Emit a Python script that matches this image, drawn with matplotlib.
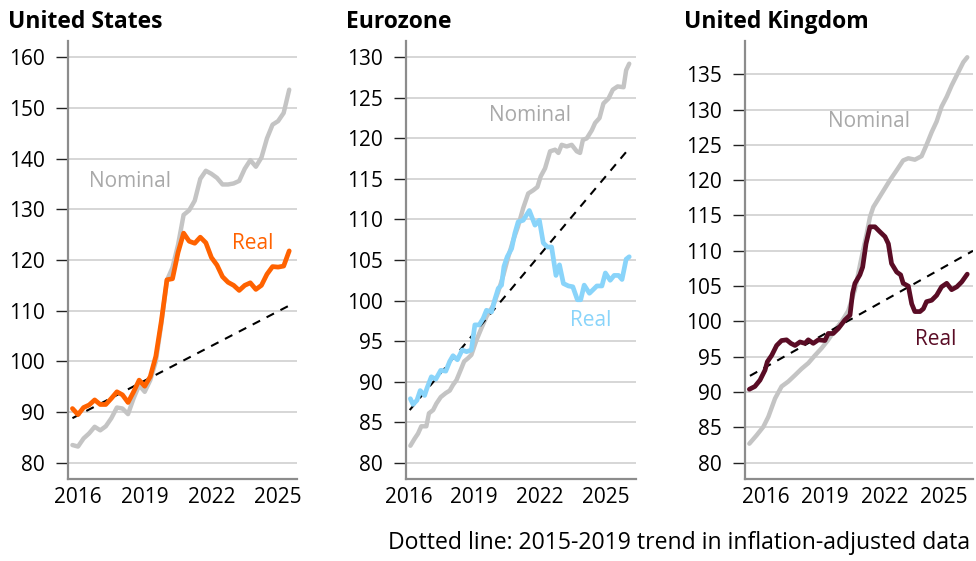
import numpy as np
import pandas as pd
import matplotlib.pyplot as plt

plt.rcParams["font.family"] = ["Open Sans", "DejaVu Sans"]

# ---- United States (quarterly, 2015Q4 - 2025Q3) ----
us_quarters = pd.period_range("2015Q4", "2025Q3", freq="Q")
us_t = np.array(us_quarters.year + (us_quarters.quarter - 1) / 4, dtype=float)
us_real = [90.7, 89.5, 90.9, 91.4, 92.4, 91.5, 91.5, 92.7, 94.0, 93.4,
           91.9, 94.0, 96.3, 95.1, 97.0, 101.0, 108.0, 116.1, 116.3, 121.5,
           125.3, 123.7, 123.3, 124.5, 123.4, 120.5, 119.0, 116.7, 115.6, 115.0,
           114.0, 115.0, 115.5, 114.2, 115.0, 117.2, 118.7, 118.6, 118.8, 121.8]
us_nominal = [83.5, 83.2, 84.8, 85.8, 87.1, 86.4, 87.2, 88.8, 90.9, 90.7,
              89.6, 92.7, 95.3, 94.0, 96.3, 100.0, 107.5, 116.0, 118.5, 123.0,
              128.9, 129.8, 131.7, 136.0, 137.6, 137.0, 136.2, 134.9, 134.9, 135.1,
              135.6, 138.0, 139.7, 138.4, 140.2, 144.0, 146.7, 147.4, 149.0, 153.6]
us_trend_t = [2015.75, 2025.45]
us_trend = [88.8, 110.9]

# ---- Eurozone ----
ez_nom_t = [2016.08, 2016.28, 2016.43, 2016.58, 2016.81, 2016.93, 2017.12, 2017.27,
            2017.47, 2017.70, 2017.88, 2018.03, 2018.19, 2018.39, 2018.54, 2018.72,
            2018.87, 2019.10, 2019.33, 2019.56, 2019.87, 2020.10, 2020.33, 2020.56,
            2020.79, 2021.00, 2021.24, 2021.47, 2021.70, 2021.89, 2022.04, 2022.24,
            2022.47, 2022.70, 2022.85, 2023.00, 2023.23, 2023.46, 2023.69, 2023.84,
            2023.97, 2024.15, 2024.38, 2024.53, 2024.73, 2024.91, 2025.14, 2025.34,
            2025.56, 2025.83, 2025.95, 2026.09]
ez_nominal = [82.1, 83.0, 83.6, 84.5, 84.5, 86.1, 86.5, 87.3,
              88.1, 88.6, 88.9, 89.6, 90.2, 91.5, 92.5, 92.9,
              93.3, 95.1, 96.6, 98.0, 99.4, 101.1, 103.1, 105.4,
              107.5, 109.1, 111.4, 113.2, 113.6, 114.0, 115.3, 116.3,
              118.4, 118.6, 118.2, 119.2, 119.0, 119.2, 118.4, 118.2,
              119.8, 120.0, 121.0, 121.9, 122.5, 124.3, 124.9, 126.0,
              126.4, 126.3, 128.4, 129.2]
ez_real_t = [2016.08, 2016.20, 2016.38, 2016.53, 2016.73, 2016.84, 2017.04, 2017.24,
             2017.47, 2017.70, 2017.88, 2018.03, 2018.23, 2018.45, 2018.65, 2018.87,
             2019.03, 2019.23, 2019.41, 2019.56, 2019.79, 2019.94, 2020.10, 2020.25,
             2020.36, 2020.51, 2020.71, 2020.86, 2021.01, 2021.24, 2021.52, 2021.78,
             2021.98, 2022.16, 2022.35, 2022.54, 2022.74, 2022.90, 2023.08, 2023.31,
             2023.51, 2023.72, 2023.87, 2024.03, 2024.27, 2024.46, 2024.61, 2024.84,
             2025.00, 2025.22, 2025.40, 2025.60, 2025.76, 2025.95, 2026.09]
ez_real = [87.9, 87.2, 87.7, 88.9, 88.3, 89.2, 90.6, 90.3,
           91.4, 91.3, 92.5, 93.2, 92.7, 93.9, 93.7, 93.9,
           97.0, 97.0, 97.8, 98.8, 98.6, 100.1, 101.5, 101.9,
           104.2, 105.4, 106.4, 108.3, 109.7, 109.9, 111.1, 109.3,
           109.9, 107.1, 106.6, 106.6, 103.1, 104.4, 102.1, 101.8,
           101.7, 100.1, 100.1, 101.9, 100.9, 101.4, 101.8, 101.8,
           103.4, 102.5, 103.1, 103.1, 102.6, 105.1, 105.4]
ez_trend_t = [2016.05, 2026.1]
ez_trend = [86.5, 118.8]

# ---- United Kingdom ----
uk_nom_t = [2015.16, 2015.53, 2015.87, 2016.12, 2016.46, 2016.79, 2017.13, 2017.47,
            2017.80, 2018.14, 2018.48, 2018.81, 2019.15, 2019.49, 2019.83, 2020.16,
            2020.50, 2020.83, 2021.10, 2021.26, 2021.43, 2021.85, 2022.27, 2022.61,
            2022.94, 2023.20, 2023.53, 2023.87, 2024.12, 2024.38, 2024.63, 2024.88,
            2025.14, 2025.39, 2025.73, 2025.98, 2026.18]
uk_nominal = [82.7, 83.9, 85.1, 86.5, 89.1, 90.8, 91.5, 92.4,
              93.3, 94.1, 95.2, 96.2, 97.4, 98.8, 100.0, 101.5,
              104.5, 109.0, 112.5, 114.8, 116.2, 118.1, 120.0, 121.4,
              122.8, 123.1, 122.9, 123.4, 125.0, 126.8, 128.3, 130.4,
              131.8, 133.4, 135.3, 136.7, 137.4]
uk_real_t = [2015.16, 2015.44, 2015.70, 2015.95, 2016.07, 2016.29, 2016.54, 2016.79,
             2017.04, 2017.26, 2017.47, 2017.72, 2017.97, 2018.14, 2018.39, 2018.65,
             2018.98, 2019.15, 2019.40, 2019.66, 2019.99, 2020.25, 2020.38, 2020.50,
             2020.75, 2020.89, 2021.06, 2021.26, 2021.51, 2021.76, 2022.02, 2022.19,
             2022.35, 2022.61, 2022.81, 2022.94, 2023.20, 2023.37, 2023.53, 2023.79,
             2023.96, 2024.12, 2024.38, 2024.63, 2024.88, 2025.14, 2025.39, 2025.65,
             2025.90, 2026.18]
uk_real = [90.4, 90.8, 91.7, 93.1, 94.3, 95.2, 96.6, 97.3,
           97.4, 96.9, 96.6, 97.1, 96.9, 97.4, 96.9, 97.4,
           97.3, 98.3, 98.3, 99.0, 100.2, 100.9, 104.0, 105.4,
           106.6, 107.7, 111.0, 113.4, 113.4, 112.7, 112.0, 111.0,
           108.2, 107.0, 106.6, 105.4, 105.0, 102.5, 101.4, 101.4,
           101.8, 102.8, 103.0, 103.7, 104.9, 105.4, 104.5, 104.9,
           105.6, 106.7]
uk_trend_t = [2015.19, 2026.47]
uk_trend = [92.3, 110.0]

GREY = "#c4c4c4"
GREY_TXT = "#a9a9a9"
GRID = "#cfcfcf"
SPINE = "#8c8c8c"

W, H = 976, 561
fig = plt.figure(figsize=(W / 100, H / 100), dpi=100)


def px_axes(left, right, top, bottom):
    return fig.add_axes([left / W, 1 - bottom / H, (right - left) / W, (bottom - top) / H])


panels = [
    dict(title="United States", tx=8, box=(68, 297, 41, 479),
         xlim=(2015.55, 2025.85), ylim=(76.8, 163.2), yticks=range(80, 161, 10),
         nom=(us_t, us_nominal), real=(us_t, us_real), trend=(us_trend_t, us_trend),
         color="#ff6200", nom_lab=(2018.32, 135.5), real_lab=(2023.84, 123.3)),
    dict(title="Eurozone", tx=346, box=(406, 636, 41, 479),
         xlim=(2015.88, 2026.4), ylim=(78.0, 132.0), yticks=range(80, 131, 5),
         nom=(ez_nom_t, ez_nominal), real=(ez_real_t, ez_real), trend=(ez_trend_t, ez_trend),
         color="#89d4fa", nom_lab=(2021.55, 122.8), real_lab=(2024.32, 97.5)),
    dict(title="United Kingdom", tx=684, box=(745, 973, 41, 479),
         xlim=(2014.94, 2026.47), ylim=(77.7, 139.7), yticks=range(80, 136, 5),
         nom=(uk_nom_t, uk_nominal), real=(uk_real_t, uk_real), trend=(uk_trend_t, uk_trend),
         color="#5a0c25", nom_lab=(2021.22, 128.35), real_lab=(2024.58, 97.5)),
]

for p in panels:
    ax = px_axes(*p["box"])
    ax.plot(*p["nom"], color=GREY, linewidth=3.2, solid_capstyle="round", zorder=3)
    ax.plot(*p["trend"], color="black", linewidth=1.5, linestyle=(0, (4, 3.5)), zorder=4)
    ax.plot(*p["real"], color=p["color"], linewidth=3.4, solid_capstyle="round", zorder=5)

    ax.text(*p["nom_lab"], "Nominal", color=GREY_TXT, fontsize=15, ha="center", va="center")
    ax.text(*p["real_lab"], "Real", color=p["color"], fontsize=15, ha="center", va="center")

    ax.set_xlim(*p["xlim"])
    ax.set_ylim(*p["ylim"])
    ax.set_xticks([2016, 2019, 2022, 2025])
    ax.set_yticks(list(p["yticks"]))
    ax.tick_params(axis="x", length=0, pad=6, labelsize=15, colors="black")
    ax.tick_params(axis="y", length=8.5, width=1.0, color="#222222", pad=8, labelsize=15)
    ax.grid(axis="y", color=GRID, linewidth=1.2, zorder=0)
    ax.set_axisbelow(True)
    for side in ["top", "right"]:
        ax.spines[side].set_visible(False)
    for side in ["left", "bottom"]:
        ax.spines[side].set_color(SPINE)
        ax.spines[side].set_linewidth(1.6)

    fig.text(p["tx"] / W, 1 - 22 / H, p["title"], fontsize=16.5, fontweight="bold",
             ha="left", va="center")

fig.text(970 / W, 1 - 543 / H, "Dotted line: 2015-2019 trend in inflation-adjusted data",
         fontsize=16.6, ha="right", va="center")

fig.savefig("out.png", dpi=100)
